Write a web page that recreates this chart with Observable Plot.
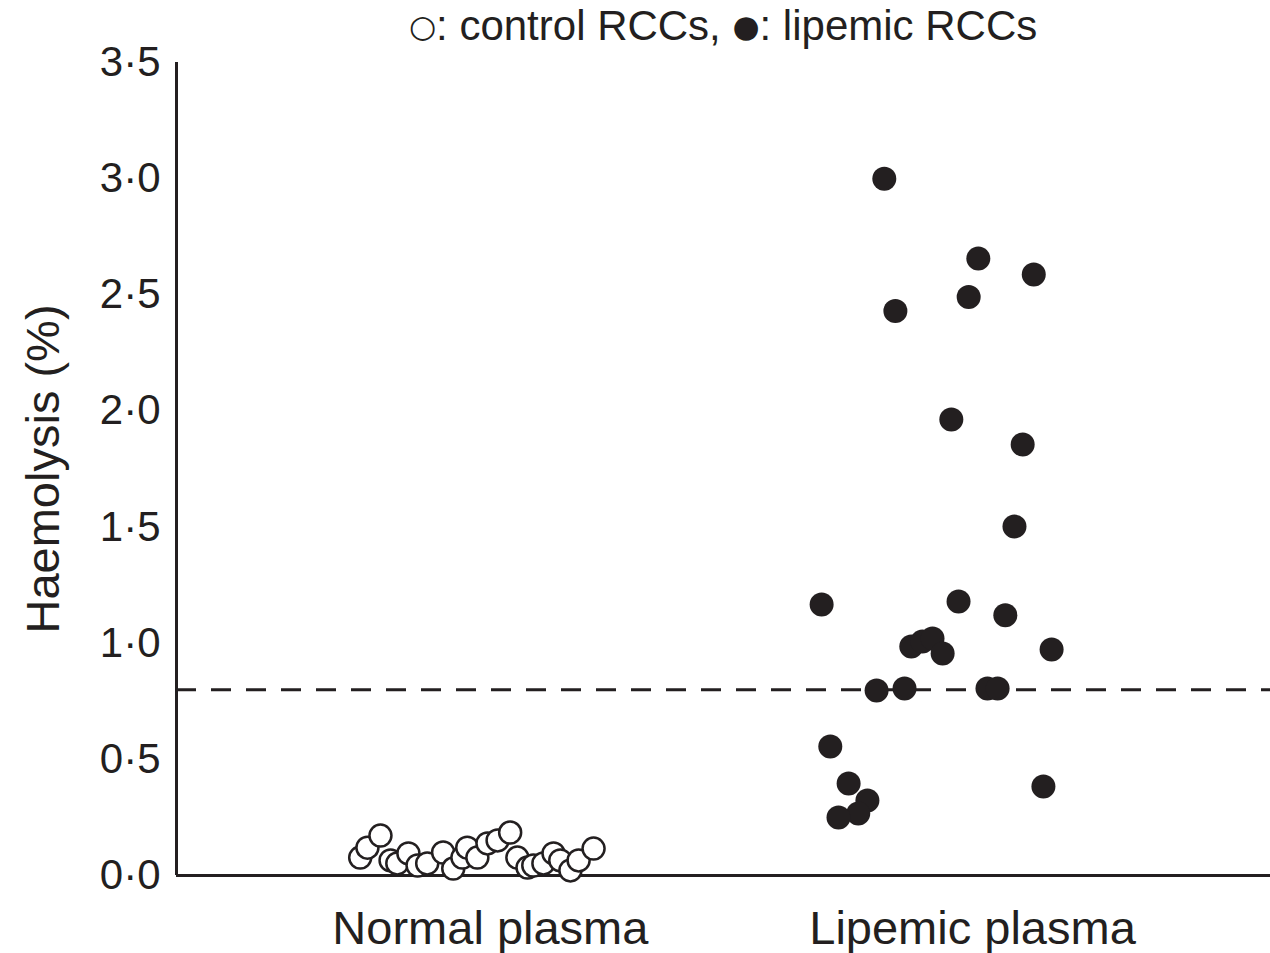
<!DOCTYPE html>
<html>
<head>
<meta charset="utf-8">
<script src="https://cdn.jsdelivr.net/npm/d3@7"></script>
<script src="https://cdn.jsdelivr.net/npm/@observablehq/plot@0.6"></script>
<style>
  html, body { margin: 0; padding: 0; background: #fff; }
  body { position: relative; width: 1270px; height: 953px; overflow: hidden; font-family: "Liberation Sans", Arial, sans-serif; }
  #title { position: absolute; z-index: 1; top: 0; left: 0; width: 1270px; height: 56px; line-height: 51px; font-size: 42px; color: #231f20; text-align: left; white-space: nowrap; }
  #title span.t { position: absolute; left: 409px; top: 0; }
  #title .sym { font-family: "DejaVu Sans", sans-serif; font-size: 31px; position: relative; top: -3px; }
  #chart svg { display: block; }
</style>
</head>
<body>
<div id="title"><span class="t"><span class="sym">○</span>: control RCCs, <span class="sym">●</span>: lipemic RCCs</span></div>
<div id="chart"></div>
<script>
// Categories and tick labels
const categories = ["Normal plasma", "Lipemic plasma"];
const yTicks = [0, 0.5, 1, 1.5, 2, 2.5, 3, 3.5];
const threshold = 0.8;

// Normal plasma (control RCCs): horizontal jitter and haemolysis (%)
const normalJitter = [-0.270, -0.255, -0.228, -0.207, -0.193, -0.170, -0.151, -0.131, -0.098, -0.077, -0.058, -0.048, -0.027, -0.006, 0.015, 0.041, 0.056, 0.077, 0.089, 0.110, 0.131, 0.145, 0.166, 0.183, 0.214];
const normalValues = [0.077, 0.120, 0.172, 0.065, 0.052, 0.095, 0.043, 0.052, 0.099, 0.030, 0.077, 0.120, 0.077, 0.138, 0.151, 0.185, 0.077, 0.034, 0.043, 0.052, 0.095, 0.065, 0.022, 0.065, 0.116];

// Lipemic plasma (lipemic RCCs)
const lipemicJitter = [-0.183, 0.012, 0.127, -0.008, -0.160, -0.044, 0.104, 0.087, -0.313, -0.029, 0.068, -0.127, -0.104, -0.083, -0.062, 0.164, -0.199, -0.141, 0.031, 0.052, -0.295, -0.257, -0.218, -0.237, -0.278, 0.147];
const lipemicValues = [3.000, 2.656, 2.587, 2.490, 2.430, 1.963, 1.855, 1.502, 1.167, 1.180, 1.120, 0.986, 1.007, 1.020, 0.956, 0.973, 0.796, 0.805, 0.805, 0.805, 0.555, 0.396, 0.323, 0.267, 0.250, 0.383];

const normal = normalValues.map((v, i) => ({x: 0 + normalJitter[i], y: v}));
const lipemic = lipemicValues.map((v, i) => ({x: 1 + lipemicJitter[i], y: v}));

const xDomain = [-0.651, 1.618];
const ink = "#231f20";

const chart = Plot.plot({
  width: 1270,
  height: 953,
  marginLeft: 176,
  marginRight: 0,
  marginTop: 62,
  marginBottom: 78,
  style: { fontFamily: "'Liberation Sans', Arial, sans-serif", color: ink, background: "transparent" },
  x: { domain: xDomain, axis: null },
  y: { domain: [0, 3.5], axis: null },
  marks: [
    Plot.axisY({ticks: yTicks, tickSize: 0, tickPadding: 16, fontSize: 42, tickFormat: d => d3.format(".1f")(d).replace(".", "·"), label: null}),
    Plot.axisX({ticks: [0, 1], tickSize: 0, tickPadding: 35, fontSize: 47, tickFormat: d => categories[d], label: null}),
    Plot.text(["Haemolysis (%)"], {frameAnchor: "left", textAnchor: "middle", rotate: -90, dx: -133, fontSize: 47, fill: ink}),
    Plot.ruleY([threshold], {stroke: ink, strokeWidth: 3, strokeDasharray: "20,15"}),
    Plot.ruleY([0], {stroke: ink, strokeWidth: 3}),
    Plot.ruleX([xDomain[0]], {y1: 0, y2: 3.5, stroke: ink, strokeWidth: 3}),
    Plot.dot(normal, {x: "x", y: "y", r: 11, fill: "#fff", stroke: ink, strokeWidth: 2.5}),
    Plot.dot(lipemic, {x: "x", y: "y", r: 12, fill: ink, stroke: "none"})
  ]
});
document.getElementById("chart").appendChild(chart);
</script>
</body>
</html>
